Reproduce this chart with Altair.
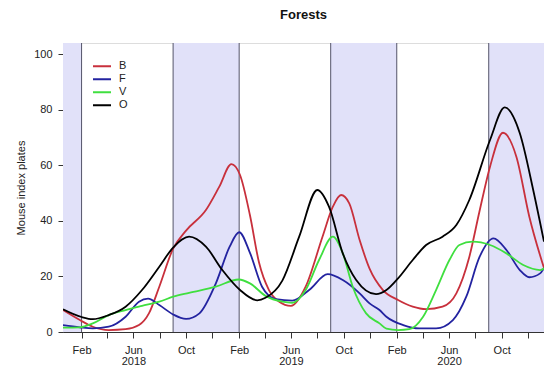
import altair as alt
import pandas as pd

# Mouse index (plates) in forests, by habitat series
series_names = ["B", "F", "V", "O"]
series_colors = ["#c8303c", "#2323a0", "#3fdf3f", "#000000"]

b_dates = ["2017-12-20", "2018-01-28", "2018-02-27", "2018-04-05", "2018-05-14", "2018-06-14",
           "2018-07-07", "2018-07-31", "2018-09-01", "2018-10-01", "2018-11-16", "2018-12-17",
           "2019-01-14", "2019-02-03", "2019-02-26", "2019-03-19", "2019-04-11", "2019-05-04",
           "2019-06-01", "2019-07-05", "2019-08-13", "2019-09-06", "2019-09-25", "2019-10-14",
           "2019-11-07", "2019-11-30", "2019-12-31", "2020-02-04", "2020-03-09", "2020-04-09",
           "2020-05-17", "2020-06-18", "2020-07-18", "2020-08-10", "2020-09-04", "2020-10-04",
           "2020-11-04", "2020-12-04", "2021-01-07"]
b_values = [7.9, 4.3, 1.9, 0.7, 1.0, 2.5,
            6.7, 16.3, 30.0, 36.5, 43.9, 52.3,
            60.4, 56.5, 42.0, 25.0, 15.1, 11.0,
            9.4, 16.3, 34.3, 45.1, 49.3, 46.3,
            33.1, 22.8, 15.1, 11.5, 9.1, 8.2,
            9.1, 13.9, 27.0, 43.0, 59.5, 71.7,
            63.1, 41.5, 23.0]

f_dates = ["2017-12-20", "2018-01-28", "2018-02-27", "2018-04-05", "2018-05-14", "2018-06-14",
           "2018-07-05", "2018-07-31", "2018-09-01", "2018-10-01", "2018-11-01", "2018-12-09",
           "2019-01-10", "2019-02-01", "2019-02-26", "2019-03-26", "2019-04-27", "2019-06-04",
           "2019-07-13", "2019-08-25", "2019-09-29", "2019-11-07", "2019-11-30", "2019-12-23",
           "2020-01-08", "2020-02-16", "2020-03-24", "2020-05-02", "2020-06-10", "2020-07-11",
           "2020-08-11", "2020-09-12", "2020-10-12", "2020-11-12", "2020-12-04", "2020-12-29",
           "2021-01-07"]
f_values = [2.5, 1.7, 1.3, 1.9, 5.5, 10.9,
            12.0, 9.7, 6.3, 4.7, 6.7, 17.5,
            30.7, 35.9, 28.5, 16.3, 11.8, 11.3,
            15.1, 20.8, 18.7, 13.9, 10.3, 7.9,
            5.5, 2.5, 1.3, 1.3, 4.3, 12.7,
            27.1, 33.7, 29.5, 22.3, 19.7, 21.1,
            23.0]

v_dates = ["2017-12-20", "2018-01-28", "2018-02-27", "2018-04-05", "2018-05-14", "2018-06-21",
           "2018-07-31", "2018-09-01", "2018-10-08", "2018-12-09", "2019-01-31", "2019-02-26",
           "2019-04-03", "2019-05-12", "2019-06-04", "2019-07-05", "2019-08-05", "2019-09-06",
           "2019-09-29", "2019-10-22", "2019-11-22", "2019-12-23", "2020-01-08", "2020-02-04",
           "2020-03-01", "2020-04-02", "2020-05-02", "2020-06-02", "2020-06-25", "2020-07-26",
           "2020-09-04", "2020-10-12", "2020-11-20", "2020-12-29", "2021-01-07"]
v_values = [1.6, 1.7, 3.1, 6.1, 7.9, 9.4,
            10.9, 12.7, 14.1, 16.3, 18.9, 17.5,
            13.0, 10.9, 10.5, 15.1, 25.9, 34.3,
            28.3, 16.3, 6.7, 3.1, 1.2, 0.7,
            1.0, 5.5, 15.1, 25.9, 31.3, 32.5,
            31.3, 28.3, 24.1, 22.3, 22.9]

o_dates = ["2017-12-20", "2018-02-01", "2018-02-27", "2018-04-05", "2018-05-14", "2018-06-21",
           "2018-07-31", "2018-09-01", "2018-10-08", "2018-11-16", "2018-12-24", "2019-02-03",
           "2019-03-15", "2019-04-03", "2019-05-12", "2019-06-20", "2019-08-01", "2019-08-28",
           "2019-09-29", "2019-10-30", "2019-12-15", "2020-01-08", "2020-02-04", "2020-03-09",
           "2020-04-09", "2020-05-17", "2020-06-18", "2020-07-18", "2020-09-04", "2020-10-08",
           "2020-11-12", "2020-12-13", "2021-01-07"]
o_values = [8.2, 5.4, 4.6, 6.1, 9.1, 15.1,
            23.5, 30.4, 34.3, 30.7, 22.3, 15.1,
            11.4, 12.3, 18.5, 34.3, 51.1, 45.1,
            28.3, 18.7, 13.6, 15.1, 19.3, 25.9,
            31.3, 34.3, 38.5, 47.5, 69.1, 80.8,
            71.5, 51.1, 32.5]

# Shaded seasons (Sep to Feb) and their boundary lines
shade_start = ["2017-09-01", "2018-09-01", "2019-09-01", "2020-09-01"]
shade_end = ["2018-02-01", "2019-02-01", "2020-02-01", "2021-02-01"]
boundary_dates = ["2018-02-01", "2018-09-01", "2019-02-01", "2019-09-01", "2020-02-01", "2020-09-01"]

y_ticks = [0, 20, 40, 60, 80, 100]

frames = []
for name, d, v in [("B", b_dates, b_values), ("F", f_dates, f_values),
                   ("V", v_dates, v_values), ("O", o_dates, o_values)]:
    frames.append(pd.DataFrame({"date": d, "value": v, "series": name}))
lines_df = pd.concat(frames, ignore_index=True)
shade_df = pd.DataFrame({"start": shade_start, "end": shade_end})
bounds_df = pd.DataFrame({"date": boundary_dates})

FONT = "Liberation Sans"

x_scale = alt.Scale(type="utc", domain=[alt.DateTime(year=2017, month=12, date=20, utc=True),
                                        alt.DateTime(year=2021, month=1, date=7, utc=True)])
y_scale = alt.Scale(domain=[0, 104], nice=False, zero=False)

tick_vals = []
for yr in [2018, 2019, 2020]:
    for mo in [2, 4, 6, 8, 10, 12]:
        tick_vals.append(alt.DateTime(year=yr, month=mo, date=1, utc=True))

label_expr = ("utcmonth(datum.value) == 5 ? [utcFormat(datum.value, '%b'), utcFormat(datum.value, '%Y')] : "
              "((utcmonth(datum.value) == 1 || utcmonth(datum.value) == 9) ? utcFormat(datum.value, '%b') : '')")

x_axis = alt.Axis(values=tick_vals, labelExpr=label_expr, labelOverlap=False, labelFlush=False,
                  tickSize=6, labelPadding=6, labelLineHeight=11, labelFontSize=11, labelFont=FONT,
                  labelColor="#222", domainColor="#333", tickColor="#333", grid=False, title=None)
y_axis = alt.Axis(values=y_ticks, tickSize=5, labelPadding=6, labelFontSize=11, labelFont=FONT,
                  labelColor="#222", domainColor="#333", tickColor="#333", grid=False,
                  title="Mouse index plates", titleFont=FONT, titleFontSize=11,
                  titleFontWeight="normal", titleColor="#222", titlePadding=7)

shade = alt.Chart(shade_df).mark_rect(color="#e1e1f9", clip=True).encode(
    x=alt.X("start:T", scale=x_scale, axis=x_axis),
    x2="end:T",
    y=alt.YDatum(0, type="quantitative", scale=y_scale, axis=y_axis),
    y2=alt.Y2Datum(104),
)

bounds = alt.Chart(bounds_df).mark_rule(color="#55556a", strokeWidth=1).encode(
    x=alt.X("date:T", scale=x_scale, axis=x_axis),
)

lines = alt.Chart(lines_df).mark_line(interpolate="monotone", strokeWidth=1.8, clip=True).encode(
    x=alt.X("date:T", scale=x_scale, axis=x_axis),
    y=alt.Y("value:Q", scale=y_scale, axis=y_axis),
    color=alt.Color("series:N", scale=alt.Scale(domain=series_names, range=series_colors),
                    legend=alt.Legend(title=None, orient="none", legendX=29, legendY=17,
                                      symbolType="stroke", symbolSize=324, symbolStrokeWidth=2,
                                      labelFontSize=11, labelFont=FONT, labelColor="#222",
                                      labelOffset=7, rowPadding=0, clipHeight=12.6, padding=0)),
)

chart = alt.layer(shade, bounds, lines).properties(
    width=481, height=289,
    autosize="none",
    padding={"left": 63, "top": 43, "right": 0, "bottom": 36},
    title=alt.Title("Forests", fontSize=13, fontWeight="bold", font=FONT, color="#111",
                    anchor="middle", offset=21),
).configure_view(stroke=None).configure(font=FONT)

chart.save("out.html", embed_options={"renderer": "svg", "actions": False})
